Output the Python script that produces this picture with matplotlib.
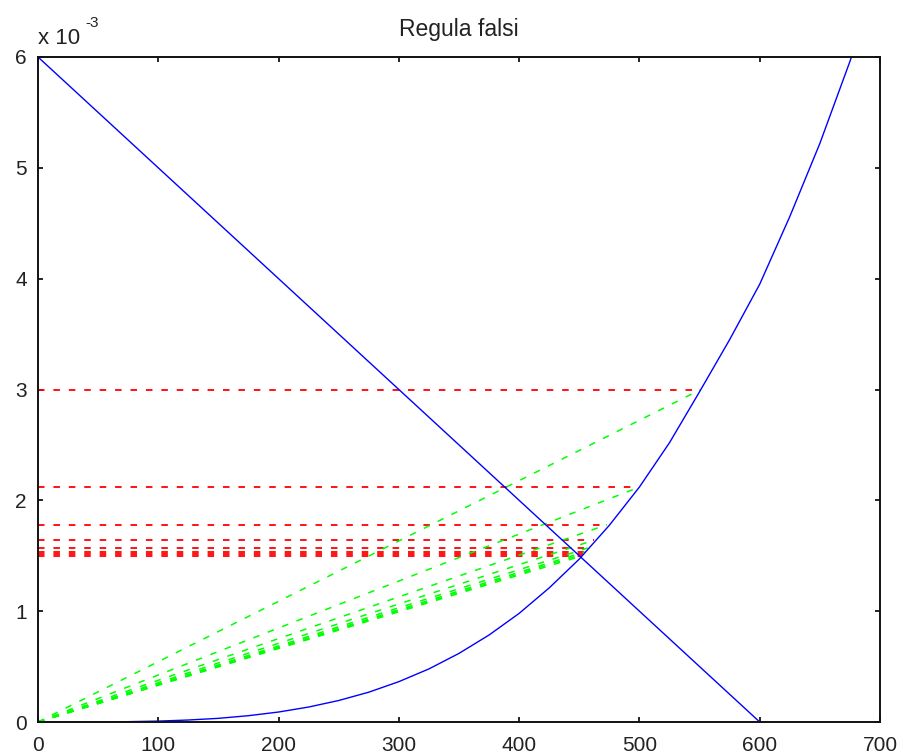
import matplotlib
matplotlib.use("Agg")
import matplotlib.pyplot as plt

plt.rcParams['font.family'] = ['Liberation Sans', 'DejaVu Sans']
plt.rcParams['lines.scale_dashes'] = False

# blue curve f(x), values in units of 1e-3
curve_x = [0, 25, 50, 75, 100, 125, 150, 175, 200, 225, 250, 275, 300, 325, 350,
           375, 400, 425, 450, 475, 500, 525, 550, 575, 600, 625, 650, 675, 680]
curve_y = [0.0, 0.0, 0.001, 0.003, 0.008, 0.018, 0.033, 0.057, 0.09, 0.135, 0.194,
           0.269, 0.364, 0.479, 0.619, 0.785, 0.98, 1.21, 1.47, 1.775, 2.12, 2.52,
           2.98, 3.45, 3.95, 4.56, 5.22, 5.96, 6.12]

# blue straight line g(x)
line_x = [0, 600]
line_y = [6.0, 0.0]

# regula falsi iterates (x_k, f(x_k)), y in units of 1e-3
iter_x = [551, 500, 473, 462, 457, 454.5, 453, 452.5]
iter_y = [3.00, 2.12, 1.78, 1.64, 1.57, 1.535, 1.515, 1.50]

xticks = [0, 100, 200, 300, 400, 500, 600, 700]
yticks = [0, 1, 2, 3, 4, 5, 6]

W, H = 904, 756
fig = plt.figure(figsize=(W / 100, H / 100), dpi=100)
fig.patch.set_facecolor('white')
ax = fig.add_axes([38 / W, 34 / H, 842 / W, 665 / H])

red = (1, 0, 0)
green = (0, 1, 0)
blue = (0, 0, 1)
dash = (4.7, 6.4)

for xk, yk in zip(iter_x, iter_y):
    ax.plot([0, xk], [yk, yk], color=red, lw=1.3, dashes=dash)
for xk, yk in zip(iter_x, iter_y):
    ax.plot([0, xk], [0, yk], color=green, lw=1.1, dashes=dash)

ax.plot(line_x, line_y, color=blue, lw=1.0)
ax.plot(curve_x, curve_y, color=blue, lw=1.0)

ax.set_xlim(0, 700)
ax.set_ylim(0, 6)
ax.set_xticks(xticks)
ax.set_yticks(yticks)
ax.set_xticklabels([str(t) for t in xticks])
ax.set_yticklabels([str(t) for t in yticks])
ax.tick_params(direction='in', length=3.6, width=1.2, top=True, right=True,
               labelsize=15, colors='black', labelcolor='#222222')
ax.tick_params(axis='x', pad=10)
ax.tick_params(axis='y', pad=8)
for s in ax.spines.values():
    s.set_linewidth(1.4)
    s.set_color('#111111')

ax.set_title('Regula falsi', fontsize=16.5, pad=15, color='#222222')

fig.text(38 / W, 1 - 44 / H, 'x 10', fontsize=16, ha='left', va='baseline', color='#222222')
fig.text(85 / W, 1 - 27 / H, '-3', fontsize=11, ha='left', va='baseline', color='#222222')

fig.savefig('out.png', dpi=100, facecolor='white')
